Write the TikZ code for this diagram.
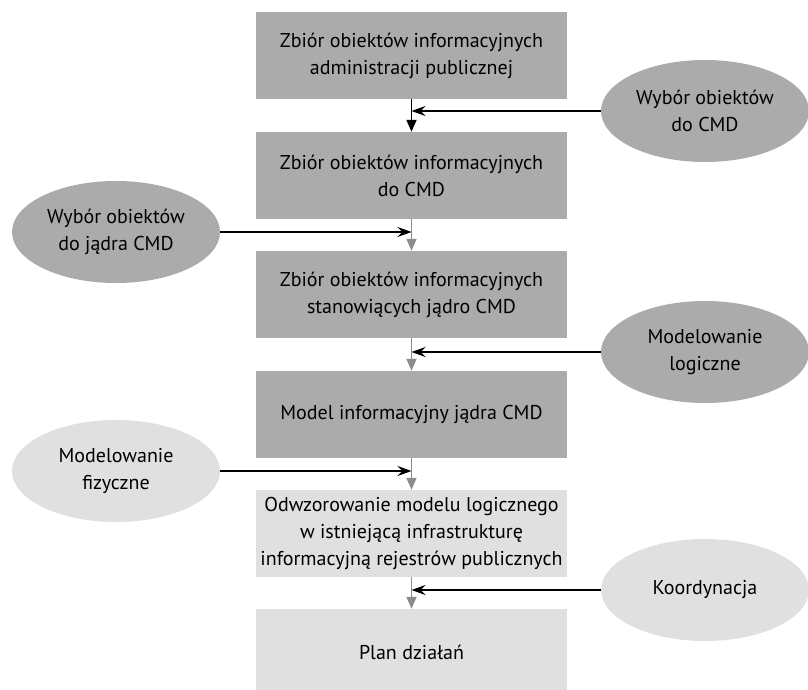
\documentclass[tikz,border=0pt]{standalone}
\usepackage{fontspec}
\setmainfont{PT Sans}
\usetikzlibrary{shapes.geometric,arrows.meta}

\definecolor{darkbox}{RGB}{171,171,171}
\definecolor{lightbox}{RGB}{224,224,224}
\definecolor{grayline}{RGB}{140,140,140}

\begin{document}
\begin{tikzpicture}[x=1pt, y=-1pt,
    box/.style={minimum width=311pt, minimum height=87pt, inner sep=0pt, align=center,
        font=\fontsize{20}{27}\selectfont},
    oval/.style={ellipse, minimum width=208pt, minimum height=102pt, inner sep=0pt, align=center,
        font=\fontsize{20}{27}\selectfont},
    down/.style={-{Triangle[length=12pt, width=10pt]}, line width=1.6pt, grayline},
    side/.style={-{Stealth[length=14pt, width=10pt, inset=5pt]}, line width=1.2pt, black}]
    \useasboundingbox (0, 0) rectangle (808, 690);

    \node[box, fill=darkbox] (B1) at (411.5, 55.5) {Zbiór obiektów informacyjnych\\administracji publicznej};
    \node[box, fill=darkbox] (B2) at (411.5, 175.5) {Zbiór obiektów informacyjnych\\do CMD};
    \node[box, fill=darkbox] (B3) at (411.5, 294.5) {Zbiór obiektów informacyjnych\\stanowiących jądro CMD};
    \node[box, fill=darkbox] (B4) at (411.5, 414.5) {Model informacyjny jądra CMD};
    \node[box, fill=lightbox] (B5) at (411.5, 533.5) {Odwzorowanie modelu logicznego\\w istniejącą infrastrukturę\\informacyjną rejestrów publicznych};
    \node[box, fill=lightbox] (B6) at (411.5, 652.5) {Plan działań};

    \node[oval, fill=darkbox] (E1) at (705, 111) {Wybór obiektów\\do CMD};
    \node[oval, fill=darkbox] (E2) at (116, 232) {Wybór obiektów\\do jądra CMD};
    \node[oval, fill=darkbox] (E3) at (705, 352) {Modelowanie\\logiczne};
    \node[oval, fill=lightbox] (E4) at (116, 471) {Modelowanie\\fizyczne};
    \node[oval, fill=lightbox] (E5) at (705, 590) {Koordynacja};

    \draw[down, black, line width=1.9pt] (B1) -- (B2);
    \draw[down] (B2) -- (B3);
    \draw[down] (B3) -- (B4);
    \draw[down] (B4) -- (B5);
    \draw[down] (B5) -- (B6);

    \draw[side] (E1.west) -- (E1.west -| B1.south);
    \draw[side] (E2.east) -- (E2.east -| B2.south);
    \draw[side] (E3.west) -- (E3.west -| B3.south);
    \draw[side] (E4.east) -- (E4.east -| B4.south);
    \draw[side] (E5.west) -- (E5.west -| B5.south);
\end{tikzpicture}
\end{document}
